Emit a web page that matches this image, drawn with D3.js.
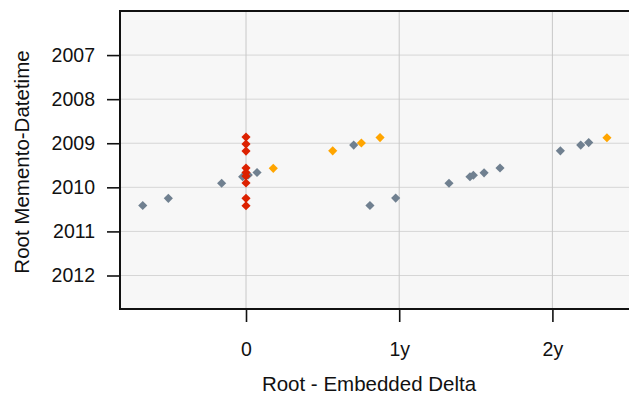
<!DOCTYPE html>
<html>
<head>
<meta charset="utf-8">
<script src="https://cdn.jsdelivr.net/npm/d3@7"></script>
<style>
  body { margin: 0; background: #fff; }
  svg text { font-family: "Liberation Sans", Arial, sans-serif; fill: #111; }
</style>
</head>
<body>
<svg width="629" height="395"></svg>
<script>
/* ---------- data: delta (years) vs root memento year ---------- */
const grayDelta = [-0.674, -0.507, -0.159, -0.022, 0.015, 0.072, 0.703, 0.809, 0.977, 1.325, 1.462, 1.484, 1.554, 1.658, 2.052, 2.185, 2.237];
const grayYear  = [2010.413, 2010.249, 2009.907, 2009.760, 2009.721, 2009.664, 2009.041, 2010.413, 2010.243, 2009.907, 2009.760, 2009.726, 2009.671, 2009.562, 2009.172, 2009.041, 2008.984];

const orangeDelta = [0.178, 0.566, 0.753, 0.875, 2.356];
const orangeYear  = [2009.569, 2009.172, 2008.995, 2008.871, 2008.875];

const redDelta = [0, 0, 0, 0, 0, 0, 0, 0, 0];
const redYear  = [2008.860, 2009.018, 2009.177, 2009.562, 2009.664, 2009.744, 2009.902, 2010.249, 2010.417];

const yTicks = [2007, 2008, 2009, 2010, 2011, 2012];
const xTicks = [0, 1, 2];
const xTickLabels = ["0", "1y", "2y"];

/* ---------- layout ---------- */
const svg = d3.select("svg");
const pLeft = 120, pRight = 629, pTop = 11, pBottom = 309;

const x = d3.scaleLinear().domain([-0.8225, 2.5]).range([pLeft, pRight]);
const y = d3.scaleLinear().domain([2006, 2012.76]).range([pTop, pBottom]);

// panel
svg.append("rect")
    .attr("x", pLeft).attr("y", pTop)
    .attr("width", pRight - pLeft).attr("height", pBottom - pTop)
    .attr("fill", "#f7f7f7");

// grid
svg.append("g").selectAll("line")
    .data(yTicks)
    .enter().append("line")
    .attr("x1", pLeft).attr("x2", pRight)
    .attr("y1", d => y(d)).attr("y2", d => y(d))
    .attr("stroke", "#d6d6d6").attr("stroke-width", 1);

svg.append("g").selectAll("line")
    .data(xTicks)
    .enter().append("line")
    .attr("x1", d => x(d)).attr("x2", d => x(d))
    .attr("y1", pTop).attr("y2", pBottom)
    .attr("stroke", "#c8c8c8").attr("stroke-width", 1);

// axes
const yAxis = svg.append("g")
    .attr("transform", `translate(${pLeft},0)`)
    .call(d3.axisLeft(y).tickValues(yTicks).tickFormat(d3.format("d")).tickSize(13).tickPadding(12));

const xAxis = svg.append("g")
    .attr("transform", `translate(0,${pBottom})`)
    .call(d3.axisBottom(x).tickValues(xTicks).tickFormat((d, i) => xTickLabels[i]).tickSize(13).tickPadding(20));

[yAxis, xAxis].forEach(g => {
    g.select(".domain").remove();
    g.selectAll(".tick line").attr("stroke", "#111").attr("stroke-width", 1.6);
    g.selectAll(".tick text")
        .style("font-size", "19.5px")
        .attr("fill", "#111");
});

// frame (top, left, bottom)
svg.append("path")
    .attr("d", `M${pRight},${pTop} L${pLeft},${pTop} L${pLeft},${pBottom} L${pRight},${pBottom}`)
    .attr("fill", "none")
    .attr("stroke", "#111")
    .attr("stroke-width", 2);

/* ---------- points ---------- */
const diamond = d3.symbol().type(d3.symbolSquare).size(42);

function drawPoints(dx, dy, color) {
    const pts = dx.map((d, i) => ({ dx: d, yr: dy[i] }));
    svg.append("g").selectAll("path")
        .data(pts)
        .enter().append("path")
        .attr("d", diamond)
        .attr("transform", d => `translate(${x(d.dx)},${y(d.yr)}) rotate(45)`)
        .attr("fill", color);
}

drawPoints(grayDelta, grayYear, "#708090");
drawPoints(orangeDelta, orangeYear, "#ffa500");
drawPoints(redDelta, redYear, "#dc2100");

/* ---------- titles ---------- */
svg.append("text")
    .attr("x", 369).attr("y", 391)
    .attr("text-anchor", "middle")
    .style("font-size", "20.5px")
    .text("Root - Embedded Delta");

svg.append("text")
    .attr("transform", "translate(29,162) rotate(-90)")
    .attr("text-anchor", "middle")
    .style("font-size", "20.5px")
    .text("Root Memento-Datetime");
</script>
</body>
</html>
